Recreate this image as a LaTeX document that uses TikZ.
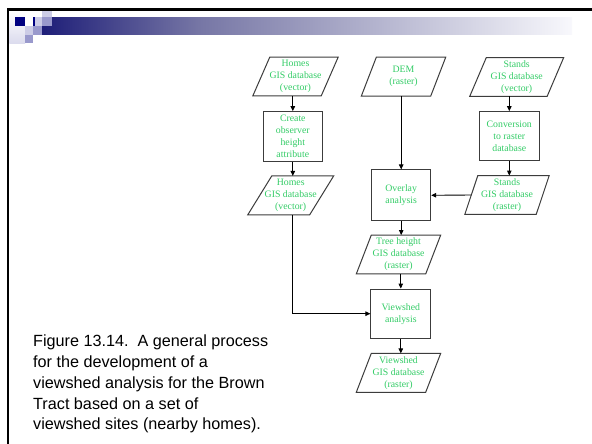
\documentclass[tikz,border=0pt]{standalone}
\usepackage{fontspec}
\setmainfont{Liberation Serif}
\newfontfamily\capfont{Liberation Sans}
\usetikzlibrary{arrows.meta}

\definecolor{flowgreen}{RGB}{51,204,102}
\definecolor{boxgray}{RGB}{60,60,60}
\definecolor{pixnavy}{RGB}{0,0,128}
\definecolor{pixmid}{RGB}{153,153,204}
\definecolor{pixlight}{RGB}{204,204,230}
\definecolor{barnavy}{RGB}{30,30,120}
\definecolor{barmid}{RGB}{118,118,165}
\definecolor{barlight}{RGB}{248,248,252}

% title bar: dark navy fading to almost white
\pgfdeclarehorizontalshading{titlebar}{100bp}{color(0bp)=(barnavy); color(25bp)=(barnavy); color(39.8bp)=(barmid); color(75bp)=(barlight); color(100bp)=(barlight)}

\tikzset{
  flowtext/.style={text=flowgreen, font=\fontsize{9.8}{12}\selectfont, align=center, inner sep=0pt},
  procbox/.style={flowtext, draw=boxgray, line width=1pt, minimum width=59pt, minimum height=49.5pt},
  datanode/.style={flowtext, minimum height=38.5pt},
  shapeline/.style={draw=boxgray, line width=1pt, line join=miter},
  arr/.style={draw=black, line width=0.9pt, -{Triangle[length=5pt,width=4.5pt]}},
  captext/.style={font=\capfont\fontsize{16.2}{20.75}\selectfont, align=left, inner sep=0pt, anchor=north west},
}

% outline of a data (parallelogram) node: #1 name, #2 half of the slant
\newcommand\paraoutline[2]{%
  \draw[shapeline] ([xshift=#2]#1.north west) -- ([xshift=#2]#1.north east)
    -- ([xshift=-#2]#1.south east) -- ([xshift=-#2]#1.south west) -- cycle;}

\begin{document}
\begin{tikzpicture}[x=1pt,y=-1pt]
\useasboundingbox (0,0) rectangle (592,444);
\fill[white] (0,0) rectangle (592,444);

% slide decoration: pixel squares and title bar
\shade[top color=white, bottom color=pixlight!70] (9.3,10.7) rectangle (25,43.3);
\shade[shading=titlebar] (41.7,17.3) rectangle (572,35);
\fill[pixlight] (41.7,10.7) rectangle (51.7,17.3);
\fill[pixnavy] (15,17.3) rectangle (25,25.7);
\fill[pixnavy] (33.3,17.3) rectangle (35,25.7);
\fill[pixlight] (35,17.3) rectangle (41.7,25.7);
\fill[pixmid] (41.7,17.3) rectangle (51.7,25.7);
\fill[pixlight] (25,25.7) rectangle (33.3,35);
\fill[pixmid] (33.3,25.7) rectangle (41.7,35);
\fill[pixmid] (25,35) rectangle (33.3,43.3);
\draw[black, line width=2.2pt] (592,9.5) -- (8.3,9.5) -- (8.3,444);

% data sets
\node[datanode, minimum width=68pt] (homesA) at (295.5,76.5) {Homes\\GIS database\\(vector)};
\paraoutline{homesA}{8.5pt}
\node[datanode, minimum width=69pt] (dem) at (403.5,76.7) {DEM\\(raster)};
\paraoutline{dem}{7.5pt}
\node[datanode, minimum width=77pt] (standsV) at (516.7,77) {Stands\\GIS database\\(vector)};
\paraoutline{standsV}{8.3pt}
\node[datanode, minimum width=61.5pt] (homesB) at (290.7,195.4) {Homes\\GIS database\\(vector)};
\paraoutline{homesB}{12pt}
\node[datanode, minimum width=71pt] (standsR) at (507,195) {Stands\\GIS database\\(raster)};
\paraoutline{standsR}{6.5pt}
\node[datanode, minimum width=69pt] (tree) at (398.5,254.5) {Tree height\\GIS database\\(raster)};
\paraoutline{tree}{7.5pt}
\node[datanode, minimum width=69pt] (viewout) at (398.5,372.8) {Viewshed\\GIS database\\(raster)};
\paraoutline{viewout}{7.5pt}

% processes
\node[procbox] (create) at (292.8,136.4) {Create\\observer\\height\\attribute};
\node[procbox, minimum width=60pt, minimum height=49pt] (convert) at (509.3,136.2) {Conversion\\to raster\\database};
\node[procbox, minimum height=50.7pt] (overlay) at (401.2,195.3) {Overlay\\analysis};
\node[procbox, minimum width=59.7pt, minimum height=49.3pt] (viewshed) at (400.8,313.7) {Viewshed\\analysis};

% connectors
\draw[arr] (homesA.south -| create.north) -- (create.north);
\draw[arr] (create.south) -- (create.south |- homesB.north);
\draw[arr] (dem.south -| overlay.north) -- (overlay.north);
\draw[arr] (standsV.south -| convert.north) -- (convert.north);
\draw[arr] (convert.south) -- (convert.south |- standsR.north);
\draw[arr] (standsR.west) -- (overlay.east);
\draw[arr] (overlay.south) -- (overlay.south |- tree.north);
\draw[arr] (tree.south -| viewshed.north) -- (viewshed.north);
\draw[arr] (homesB.south -| create.south) |- (viewshed.west);
\draw[arr] (viewshed.south) -- (viewshed.south |- viewout.north);

% caption
\node[captext] (caption) at (33,335) {Figure 13.14.\ \ A general process\\for the development of a\\viewshed analysis for the Brown\\Tract based on a set of\\viewshed sites (nearby homes).};
\end{tikzpicture}
\end{document}
